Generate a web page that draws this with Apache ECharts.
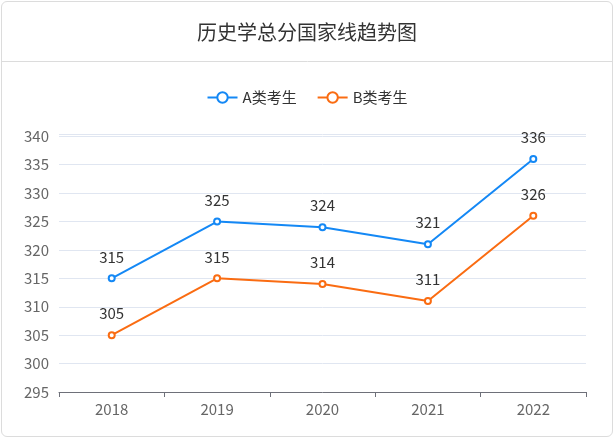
<!DOCTYPE html>
<html>
<head>
<meta charset="utf-8">
<script src="https://cdn.jsdelivr.net/npm/echarts@6/dist/echarts.min.js"></script>
<style>
  html, body { margin: 0; padding: 0; background: #fff; }
  .wrap {
    position: absolute; left: 1px; top: 1px;
    width: 612px; height: 436px;
    border: 1px solid #dcdcdc; border-radius: 6px;
    box-sizing: border-box; overflow: hidden;
  }
  #chart { width: 100%; height: 100%; }
</style>
</head>
<body>
<div class="wrap"><div id="chart"></div></div>
<script>
var years = ["2018", "2019", "2020", "2021", "2022"];
var seriesA = [315, 325, 324, 321, 336];
var seriesB = [305, 315, 314, 311, 326];
var yMin = 295;
var yMax = 340.4;
var yStep = 5;

var chart = echarts.init(document.getElementById("chart"));
var font = "'Noto Sans CJK SC', 'Noto Sans', sans-serif";

var option = {
  textStyle: { fontFamily: font },
  title: {
    text: "历史学总分国家线趋势图",
    left: "center",
    top: 15,
    textStyle: { fontSize: 20, fontWeight: "normal", color: "#333", fontFamily: font }
  },
  graphic: [
    {
      type: "line",
      shape: { x1: 0, y1: 59.5, x2: 612, y2: 59.5 },
      style: { stroke: "#dcdcdc", lineWidth: 1 }
    }
  ],
  legend: {
    top: 83,
    left: "center",
    itemWidth: 30,
    itemHeight: 13,
    itemGap: 20,
    textStyle: { fontSize: 15, color: "#333", fontFamily: font },
    data: ["A类考生", "B类考生"]
  },
  grid: {
    left: 57,
    right: 26,
    top: 132,
    bottom: 44
  },
  xAxis: {
    type: "category",
    data: years,
    boundaryGap: true,
    axisLine: { lineStyle: { color: "#6e7079", width: 1 } },
    axisTick: { show: true, length: 5, lineStyle: { color: "#6e7079" } },
    axisLabel: { fontSize: 15, color: "#666", margin: 10, fontFamily: font }
  },
  yAxis: {
    type: "value",
    min: yMin,
    max: yMax,
    interval: yStep,
    axisLine: { show: false },
    axisTick: { show: false },
    axisLabel: {
      fontSize: 15,
      color: "#666",
      margin: 10,
      fontFamily: font,
      formatter: function (v) {
        return Math.abs(v % yStep) < 1e-6 ? String(v) : "";
      }
    },
    splitLine: { show: true, lineStyle: { color: "#e0e6f1" } }
  },
  series: [
    {
      name: "A类考生",
      type: "line",
      data: seriesA,
      symbol: "emptyCircle",
      symbolSize: 6,
      color: "#1488f5",
      lineStyle: { width: 2, color: "#1488f5" },
      itemStyle: { color: "#1488f5", borderWidth: 2 },
      label: { show: true, position: "top", distance: 10, fontSize: 15, color: "#333", fontFamily: font }
    },
    {
      name: "B类考生",
      type: "line",
      data: seriesB,
      symbol: "emptyCircle",
      symbolSize: 6,
      color: "#fa6c12",
      lineStyle: { width: 2, color: "#fa6c12" },
      itemStyle: { color: "#fa6c12", borderWidth: 2 },
      label: { show: true, position: "top", distance: 10, fontSize: 15, color: "#333", fontFamily: font }
    }
  ]
};
chart.setOption(option);
</script>
</body>
</html>
